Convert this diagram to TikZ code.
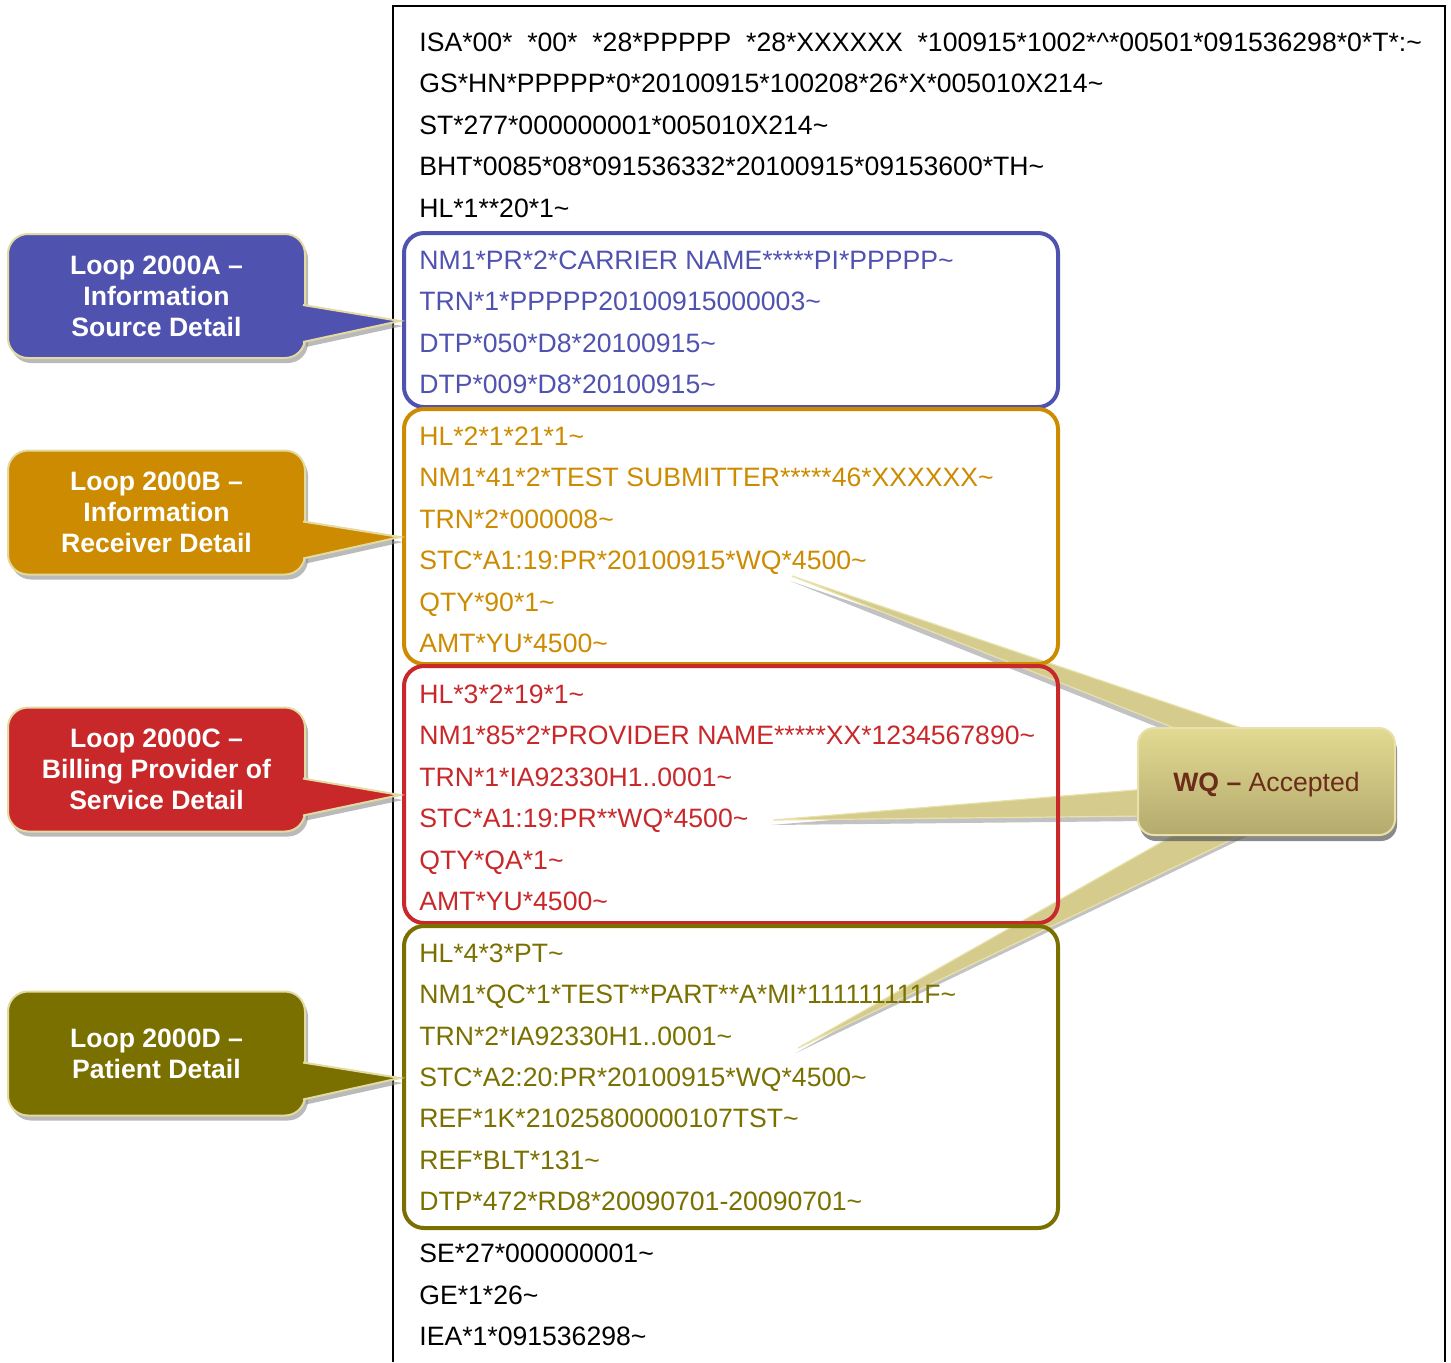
\documentclass[tikz,border=0pt]{standalone}
\usepackage{fontspec}
\setmainfont{Liberation Sans}
\usetikzlibrary{shadows}
\usetikzlibrary{calc}

\definecolor{loopA}{RGB}{80,82,176}
\definecolor{loopB}{RGB}{204,139,0}
\definecolor{loopC}{RGB}{200,40,42}
\definecolor{loopD}{RGB}{122,112,0}
\definecolor{calloutedge}{RGB}{226,218,160}
\definecolor{wqtop}{RGB}{226,218,146}
\definecolor{wqbot}{RGB}{180,170,110}
\definecolor{wqtan}{RGB}{212,203,140}
\definecolor{wqedge}{RGB}{232,225,170}
\definecolor{wqtext}{RGB}{107,45,26}

\pgfdeclarelayer{front}
\pgfsetlayers{main,front}

\newcommand{\tld}{\textasciitilde}
\newcommand{\codefont}{\fontsize{13.3}{20.7}\selectfont}

\tikzset{
  codeline/.style={anchor=west, inner sep=0pt, text height=9.5pt, text depth=0pt, font=\codefont},
  loopframe/.style={line width=2pt, rounded corners=10pt},
  loopbox/.style={rounded corners=10pt, draw=calloutedge, line width=1pt,
    minimum width=148.5pt, minimum height=62pt, align=center, text=white,
    font=\bfseries\fontsize{13.3}{15.5}\selectfont,
    drop shadow={shadow xshift=1.5pt, shadow yshift=-2.5pt, fill=black!45, opacity=.6}},
  looptail/.style={draw=calloutedge, line width=1pt,
    drop shadow={shadow xshift=1.5pt, shadow yshift=-2.5pt, fill=black!45, opacity=.6}},
  wqbox/.style={rounded corners=8pt, top color=wqtop, bottom color=wqbot, draw=wqedge,
    line width=1pt, minimum width=128.5pt, minimum height=53.5pt, text=wqtext,
    font=\codefont, text height=9.5pt, text depth=0pt,
    drop shadow={shadow xshift=1pt, shadow yshift=-3pt, fill=black!65, opacity=.7}},
  wqtail/.style={fill=wqtan, draw=wqedge, line width=0.6pt,
    drop shadow={shadow xshift=-1pt, shadow yshift=-2.5pt, fill=black!40, opacity=.6}}
}

\begin{document}
\begin{tikzpicture}[x=0.5pt, y=-0.5pt]
    \useasboundingbox (0,0) rectangle (1451,1362);

    % outer page frame
    \draw[line width=0.8pt] (393,1362) -- (393,6) -- (1445,6) -- (1445,1362);

    % status callout on the right (its tails sit under the text)
    \begin{pgfonlayer}{front}
      \node[wqbox] (wq) at (1266.5,781.5) {\textbf{WQ --} Accepted};
    \end{pgfonlayer}
    \coordinate (stcB) at (792,576);
    \coordinate (stcC) at (773,820);
    \coordinate (stcD) at (798,1048);
    \filldraw[wqtail] ($(wq.north west)+(60,10)$) -- (stcB) -- ($(wq.north west)+(131,10)$);
    \filldraw[wqtail] ($(wq.north west)+(10,62)$) -- (stcC) -- ($(wq.north west)+(10,89)$);
    \filldraw[wqtail] ($(wq.south west)+(53,-10)$) -- (stcD) -- ($(wq.south west)+(123,-10)$);

    % envelope lines
    \foreach \txt [count=\i] in {{ISA*00*\ \ *00*\ \ *28*PPPPP\ \ *28*XXXXXX\ \ *100915*1002*\textasciicircum*00501*091536298*0*T*:\tld},
        {GS*HN*PPPPP*0*20100915*100208*26*X*005010X214\tld},
        {ST*277*000000001*005010X214\tld},
        {BHT*0085*08*091536332*20100915*09153600*TH\tld},
        {HL*1**20*1\tld}}
      \node[codeline] (hdr\i) at (419,42+41.4*\i-41.4) {\txt};

    % Loop 2000A
    \foreach \txt [count=\i] in {{NM1*PR*2*CARRIER NAME*****PI*PPPPP\tld},
        {TRN*1*PPPPP20100915000003\tld},
        {DTP*050*D8*20100915\tld},
        {DTP*009*D8*20100915\tld}}
      \node[codeline, text=loopA] (lnA\i) at (419,260+41.4*\i-41.4) {\txt};
    \draw[loopframe, loopA] (404,233) rectangle (1058,407);

    % Loop 2000B
    \foreach \txt [count=\i] in {{HL*2*1*21*1\tld},
        {NM1*41*2*TEST SUBMITTER*****46*XXXXXX\tld},
        {TRN*2*000008\tld},
        {STC*A1:19:PR*20100915*WQ*4500\tld},
        {QTY*90*1\tld},
        {AMT*YU*4500\tld}}
      \node[codeline, text=loopB] (lnB\i) at (419,436+41.4*\i-41.4) {\txt};
    \draw[loopframe, loopB] (404,409) rectangle (1058,664);

    % Loop 2000C
    \foreach \txt [count=\i] in {{HL*3*2*19*1\tld},
        {NM1*85*2*PROVIDER NAME*****XX*1234567890\tld},
        {TRN*1*IA92330H1..0001\tld},
        {STC*A1:19:PR**WQ*4500\tld},
        {QTY*QA*1\tld},
        {AMT*YU*4500\tld}}
      \node[codeline, text=loopC] (lnC\i) at (419,694+41.4*\i-41.4) {\txt};
    \draw[loopframe, loopC] (404,666) rectangle (1058,923);

    % Loop 2000D
    \foreach \txt [count=\i] in {{HL*4*3*PT\tld},
        {NM1*QC*1*TEST**PART**A*MI*111111111F\tld},
        {TRN*2*IA92330H1..0001\tld},
        {STC*A2:20:PR*20100915*WQ*4500\tld},
        {REF*1K*21025800000107TST\tld},
        {REF*BLT*131\tld},
        {DTP*472*RD8*20090701-20090701\tld}}
      \node[codeline, text=loopD] (lnD\i) at (419,953+41.33*\i-41.33) {\txt};
    \draw[loopframe, loopD] (404,926) rectangle (1058,1228);

    % trailer lines
    \foreach \txt [count=\i] in {{SE*27*000000001\tld},
        {GE*1*26\tld},
        {IEA*1*091536298\tld}}
      \node[codeline] (trl\i) at (419,1253+41.5*\i-41.5) {\txt};

    % callouts on the left
    \coordinate (tipA) at (400,321);
    \coordinate (tipB) at (400,537);
    \coordinate (tipC) at (400,795);
    \coordinate (tipD) at (400,1078);

    \node[loopbox, fill=loopA] (srcA) at (156.5,296) {Loop 2000A --\\Information\\Source Detail};
    \filldraw[looptail, fill=loopA] ($(srcA.east)+(-3,9)$) -- (tipA) -- ($(srcA.east)+(-3,46)$);

    \node[loopbox, fill=loopB] (rcvB) at (156.5,512.5) {Loop 2000B --\\Information\\Receiver Detail};
    \filldraw[looptail, fill=loopB] ($(rcvB.east)+(-3,9)$) -- (tipB) -- ($(rcvB.east)+(-3,46)$);

    \node[loopbox, fill=loopC] (prvC) at (156.5,769.5) {Loop 2000C --\\Billing Provider of\\Service Detail};
    \filldraw[looptail, fill=loopC] ($(prvC.east)+(-3,9)$) -- (tipC) -- ($(prvC.east)+(-3,46)$);

    \node[loopbox, fill=loopD] (patD) at (156.5,1053.5) {Loop 2000D --\\Patient Detail};
    \filldraw[looptail, fill=loopD] ($(patD.east)+(-3,9)$) -- (tipD) -- ($(patD.east)+(-3,46)$);

\end{tikzpicture}
\end{document}
